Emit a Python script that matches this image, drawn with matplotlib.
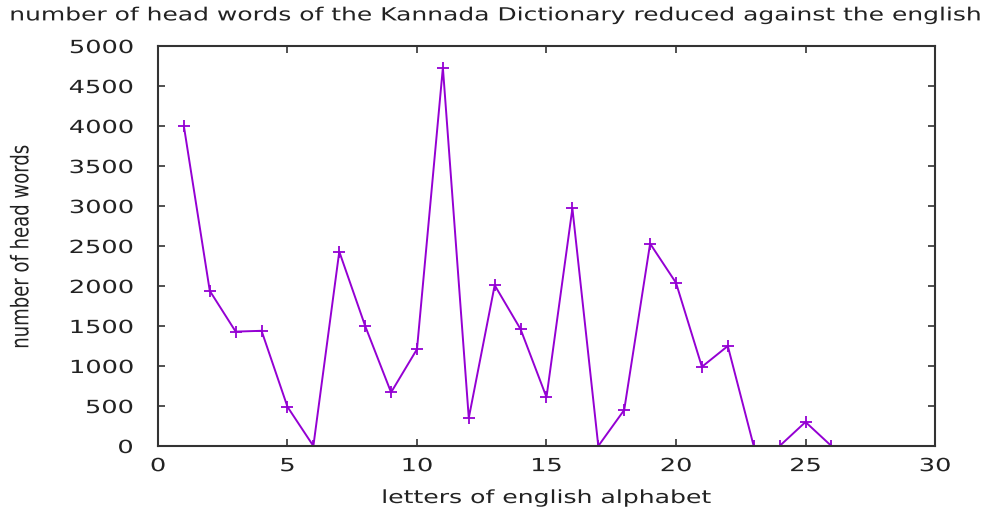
import matplotlib
matplotlib.use("Agg")
import matplotlib.pyplot as plt
from matplotlib.patheffects import AbstractPathEffect
from matplotlib.transforms import Affine2D

letters = list(range(1, 27))
head_words = [4000, 1940, 1430, 1440, 490, 0, 2430, 1500, 670, 1210,
              4730, 350, 2010, 1460, 610, 2970, 0, 450, 2530, 2040,
              990, 1250, 0, 0, 300, 0]

title = "number of head words of the Kannada Dictionary reduced against the english"
xlabel = "letters of english alphabet"
ylabel = "number of head words"


class Stretch(AbstractPathEffect):
    """Stretch text in its own frame about an anchor point of its extents."""
    def __init__(self, sx=1.0, anchor=0.5, sy=1.0):
        super().__init__()
        self.sx = sx
        self.sy = sy
        self.anchor = anchor

    def draw_path(self, renderer, gc, tpath, affine, rgbFace=None):
        ext = tpath.get_extents()
        cx = ext.x0 + self.anchor * (ext.x1 - ext.x0)
        cy = 0.5 * (ext.y0 + ext.y1)
        t = (Affine2D().translate(-cx, -cy).scale(self.sx, self.sy)
             .translate(cx, cy))
        renderer.draw_path(gc, tpath, t + affine, rgbFace)


SX = 1.42
fig = plt.figure(figsize=(9.86, 5.13), dpi=100)
ax = fig.add_axes([0.1602, 0.1306, 0.7881, 0.7797])
ax.plot(letters, head_words, color="#9400D3", lw=1.4, marker="+", ms=9, mew=1.3)
ax.set_xlim(0, 30)
ax.set_ylim(0, 5000)
ax.set_xticks(range(0, 31, 5))
ax.set_yticks(range(0, 5001, 500))
for s in ax.spines.values():
    s.set_color("#333333")
    s.set_linewidth(1.5)
ax.tick_params(direction="in", top=True, right=True, length=5, width=1.2,
               color="#333333", labelsize=13, labelcolor="#222222")
ax.tick_params(axis="x", pad=8)
ax.tick_params(axis="y", pad=18)
for lab in ax.get_xticklabels():
    lab.set_path_effects([Stretch(SX, 0.5)])
for lab in ax.get_yticklabels():
    lab.set_path_effects([Stretch(SX, 1.0)])

xl = ax.set_xlabel(xlabel, fontsize=13, color="#222222", labelpad=10)
xl.set_path_effects([Stretch(1.39, 0.5)])
yl = fig.text(21 / 986, 1 - 247 / 513, ylabel, fontsize=13, color="#222222",
              rotation=90, ha="center", va="center")
yl.set_path_effects([Stretch(1.0, 0.5, sy=1.35)])
t = fig.text(0.01, 0.97, title, fontsize=13, color="#222222", ha="left", va="center")
t.set_path_effects([Stretch(1.383, 0.0)])
fig.savefig("out.png", dpi=100)
